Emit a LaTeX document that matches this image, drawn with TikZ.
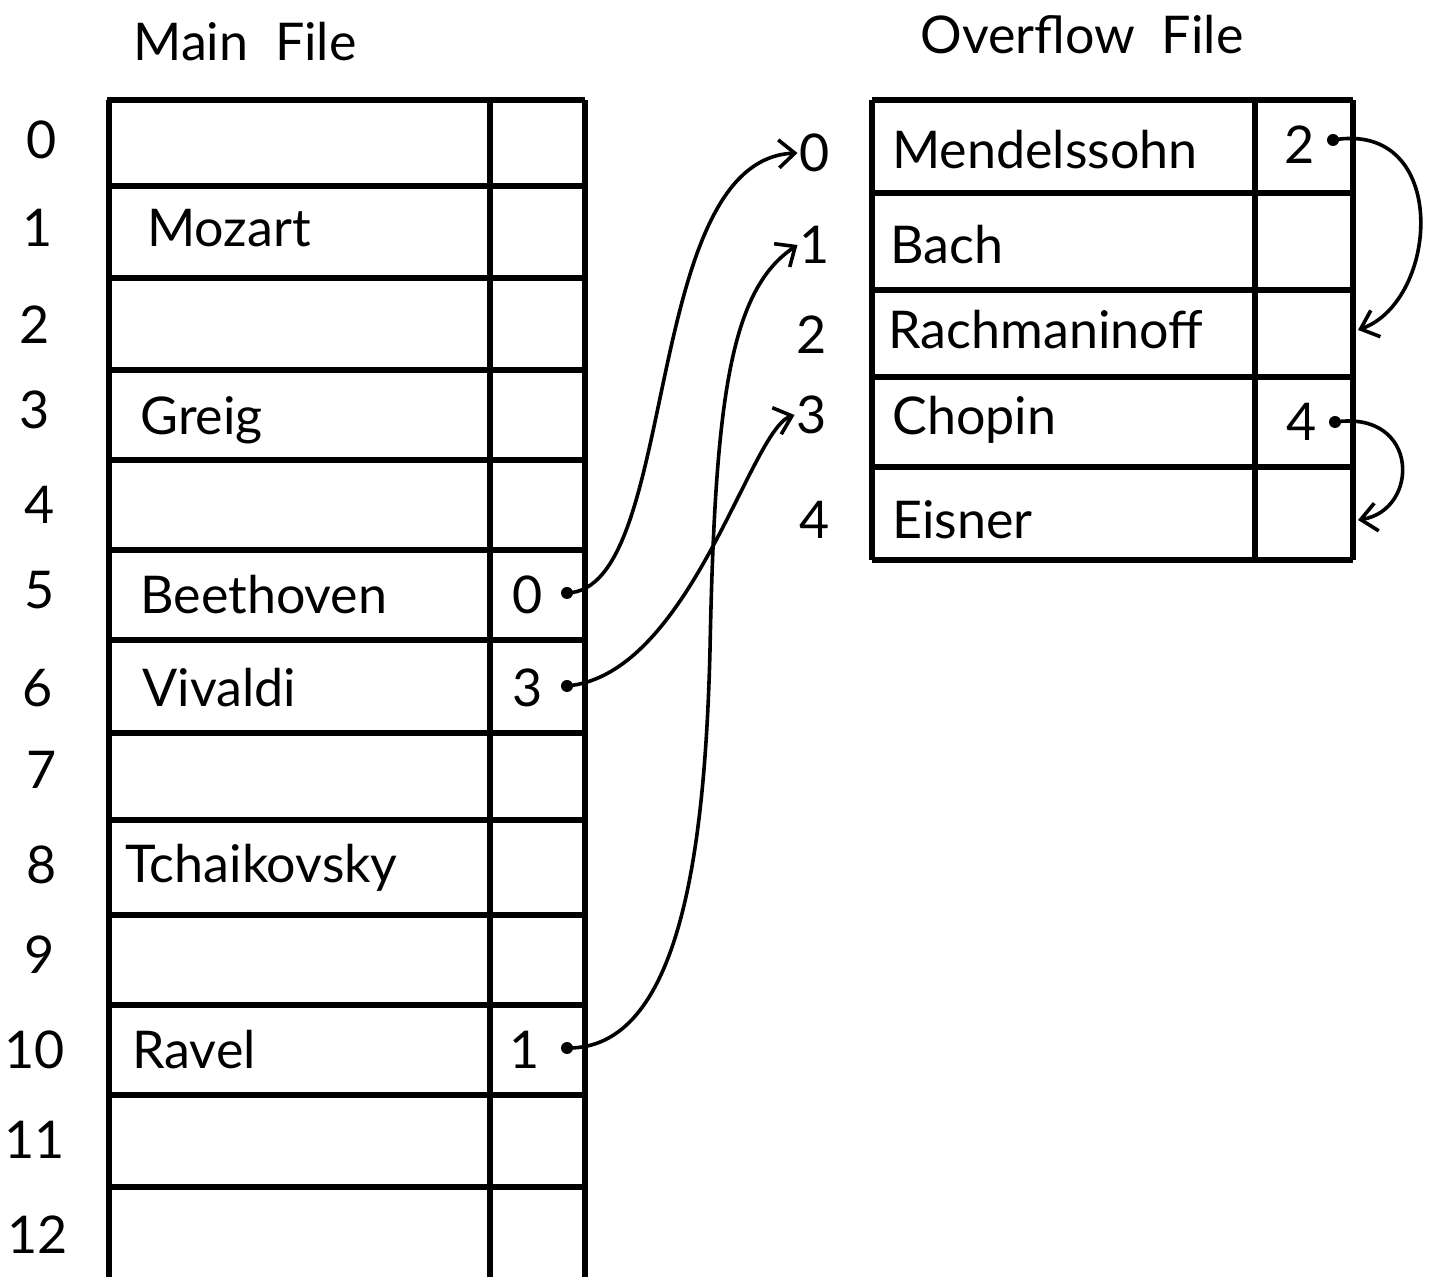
\documentclass[tikz,border=0pt]{standalone}
\usepackage{fontspec}
\setmainfont{Lato}
\usetikzlibrary{arrows.meta}
\begin{document}
\begin{tikzpicture}[x=0.5pt,y=-0.5pt,
  grid/.style={line width=3pt},
  txt/.style={font=\fontsize{26}{30}\selectfont, inner sep=1pt},
  cname/.style={txt, anchor=west},
  ptr/.style={line width=1.8pt, -{Straight Barb[length=8pt,width=14pt]}},
  dot/.style={circle, fill, inner sep=0pt, minimum size=6pt}]
\useasboundingbox (0,0) rectangle (1442,1277);
\fill[white] (0,0) rectangle (1442,1277);

% titles
\node[txt] (tmain) at (245,42) {Main\ \ File};
\node[txt] (tover) at (1082,35) {Overflow\ \ File};

% main table
\draw[grid] (107,100) -- (585,100);
\draw[grid] (109,100) -- (109,1277);
\draw[grid] (490,100) -- (490,1277);
\draw[grid] (585,100) -- (585,1277);
\foreach \y in {186,278,370,460,550,640,733,820,915,1005,1095,1187}
  \draw[grid] (109,\y) -- (585,\y);

% overflow table
\draw[grid] (872,100) -- (1353,100);
\draw[grid] (872,560) -- (1353,560);
\draw[grid] (872,100) -- (872,560);
\draw[grid] (1255,100) -- (1255,560);
\draw[grid] (1353,100) -- (1353,560);
\foreach \y in {193,290,377,467}
  \draw[grid] (872,\y) -- (1353,\y);

% main indices
\node[txt] (m0) at (42,140) {0};
\node[txt] (m1) at (38,228) {1};
\node[txt] (m2) at (35,325) {2};
\node[txt] (m3) at (35,410) {3};
\node[txt] (m4) at (40,505) {4};
\node[txt] (m5) at (40,590) {5};
\node[txt] (m6) at (38,688) {6};
\node[txt] (m7) at (42,770) {7};
\node[txt] (m8) at (42,865) {8};
\node[txt] (m9) at (40,955) {9};
\node[txt] (m10) at (35,1050) {10};
\node[txt] (m11) at (35,1140) {11};
\node[txt] (m12) at (38,1235) {12};

% overflow indices
\node[txt] (o0) at (815,153) {0};
\node[txt] (o1) at (815,245) {1};
\node[txt] (o2) at (812,335) {2};
\node[txt] (o3) at (812,415) {3};
\node[txt] (o4) at (815,520) {4};

% main names
\node[cname] (mozart) at (145,228) {Mozart};
\node[cname] (greig) at (138,420) {Greig};
\node[cname] (beethoven) at (138,595) {Beethoven};
\node[cname] (vivaldi) at (140,688) {Vivaldi};
\node[cname] (tchaikovsky) at (123,868) {Tchaikovsky};
\node[cname] (ravel) at (130,1050) {Ravel};

% overflow names
\node[cname] (mendelssohn) at (890,150) {Mendelssohn};
\node[cname] (bach) at (888,245) {Bach};
\node[cname] (rachmaninoff) at (886,330) {Rachmaninoff};
\node[cname] (chopin) at (890,420) {Chopin};
\node[cname] (eisner) at (890,520) {Eisner};

% pointer values
\node[txt] (p5) at (528,595) {0};
\node[txt] (p6) at (528,688) {3};
\node[txt] (p10) at (525,1050) {1};
\node[txt] (q0) at (1300,145) {2};
\node[txt] (q3) at (1302,422) {4};

% dots
\node[dot] (d5) at (567,593) {};
\node[dot] (d6) at (567,686) {};
\node[dot] (d10) at (567,1048) {};
\node[dot] (e0) at (1333,140) {};
\node[dot] (e3) at (1335,422) {};

\coordinate (bend) at (710,650);
\coordinate (c2) at (1358,330);
\coordinate (c4) at (1358,520);

% connectors
\draw[ptr] (d5.center) .. controls (680,590) and (640,160) .. (o0.west);
\draw[ptr] (d6.center) .. controls (690,675) and (750,430) .. (o3.west);
\draw[ptr] (d10.center) .. controls (680,1050) and (705,850) .. (bend)
            .. controls (715,400) and (730,290) .. (o1.west);
\draw[ptr] (e0.center) .. controls (1450,120) and (1440,300) .. (c2);
\draw[ptr] (e3.center) .. controls (1420,410) and (1420,510) .. (c4);
\end{tikzpicture}
\end{document}
